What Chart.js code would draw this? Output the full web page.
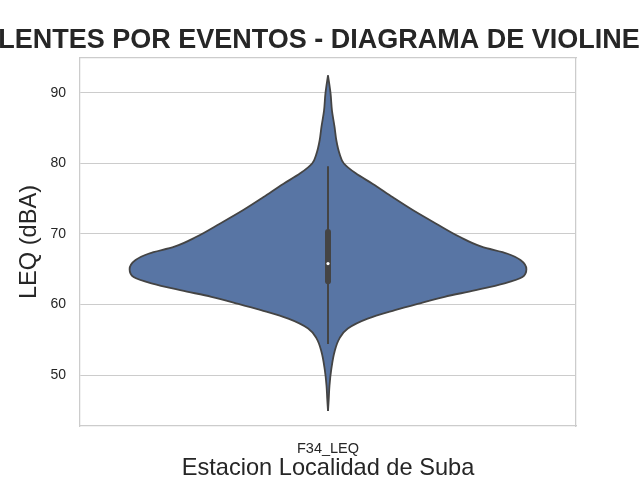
<!DOCTYPE html>
<html>
<head>
<meta charset="utf-8">
<script src="https://cdn.jsdelivr.net/npm/chart.js@4/dist/chart.umd.min.js"></script>
<style>
  html, body { margin: 0; padding: 0; background: #ffffff; }
  #wrap { width: 640px; height: 480px; }
</style>
</head>
<body>
<div id="wrap"><canvas id="c" width="640" height="480"></canvas></div>
<script>
// ---- data ----
const categories = ['F34_LEQ'];
const yTicks = [50, 60, 70, 80, 90];
// violin outline: LEQ level (dBA) and relative density (1 = widest)
const violinLevels  = [44.9, 46.7, 48.5, 50.9, 53.3, 55.2, 56.6, 58.0, 59.2, 60.1, 61.1, 62.0, 63.0, 63.9, 65.0, 66.3, 67.2, 68.2, 69.6, 71.5, 73.4, 75.2, 77.1, 78.6, 80.0, 81.4, 83.3, 85.2, 87.5, 89.9, 92.5];
const violinDensity = [0, 0.004, 0.0075, 0.017, 0.033, 0.058, 0.10, 0.20, 0.337, 0.452, 0.588, 0.739, 0.89, 0.98, 1.0, 0.97, 0.905, 0.774, 0.663, 0.543, 0.427, 0.327, 0.226, 0.14, 0.08, 0.058, 0.042, 0.033, 0.02, 0.013, 0];
// inner box plot
const whiskerLow = 54.4, q1 = 63.3, median = 65.8, q3 = 70.3, whiskerHigh = 79.6;

const halfWidth = 0.4;   // violin width 0.8 on the categorical axis
const catPos = 0;

const leftSide  = violinLevels.map((v, i) => ({ x: catPos - violinDensity[i] * halfWidth, y: v }));
const rightSide = violinLevels.map((v, i) => ({ x: catPos + violinDensity[i] * halfWidth, y: v }));

const FONT = '"Liberation Sans", Arial, Helvetica, sans-serif';
const TEXT = '#262626';
const LINE = '#444444';
const FILL = '#5875a4';
const GRID = '#cccccc';

// let the (wide) title overflow its box instead of being squeezed
const wideTitle = {
  id: 'wideTitle',
  afterLayout(chart) {
    const t = chart.titleBlock;
    if (t) { t.left -= 300; t.right += 300; t.width += 600; }
  }
};

new Chart(document.getElementById('c'), {
  type: 'line',
  plugins: [wideTitle],
  data: {
    datasets: [
      { data: leftSide, order: 2, borderColor: LINE, borderWidth: 1.8, pointRadius: 0, fill: false,
        cubicInterpolationMode: 'monotone', backgroundColor: FILL },
      { data: rightSide, order: 2, borderColor: LINE, borderWidth: 1.8, pointRadius: 0, fill: '-1',
        cubicInterpolationMode: 'monotone', backgroundColor: FILL },
      { data: [{ x: catPos, y: whiskerLow }, { x: catPos, y: whiskerHigh }], order: 1, borderColor: LINE,
        borderWidth: 2, pointRadius: 0, fill: false },
      { data: [{ x: catPos, y: q1 }, { x: catPos, y: q3 }], order: 1, borderColor: LINE,
        borderWidth: 6, pointRadius: 0, fill: false, borderCapStyle: 'round' },
      { data: [{ x: catPos, y: median }], order: 0, showLine: false, pointRadius: 1.6,
        pointBackgroundColor: '#ffffff', pointBorderWidth: 0, fill: false }
    ]
  },
  options: {
    indexAxis: 'y',
    responsive: false,
    devicePixelRatio: 1,
    animation: false,
    events: [],
    layout: { padding: { left: 0, right: 64, top: 0, bottom: 0 } },
    plugins: {
      legend: { display: false },
      tooltip: { enabled: false },
      title: {
        display: true,
        fullSize: false,
        text: 'LENTES POR EVENTOS - DIAGRAMA DE VIOLINES',
        color: TEXT,
        font: { family: FONT, size: 27, weight: 'bold', lineHeight: 1.2 },
        padding: { top: 24.6, bottom: 1.0 }
      }
    },
    scales: {
      x: {
        type: 'linear', position: 'bottom', min: -0.5, max: 0.5,
        afterBuildTicks: (axis) => { axis.ticks = [{ value: catPos }]; },
        afterFit: (axis) => { axis.height = 54; },
        grid: { display: false, drawTicks: false },
        border: { display: true, color: GRID, width: 1.25 },
        ticks: { color: TEXT, font: { family: FONT, size: 14.5 }, padding: 14,
                 callback: (v, i) => categories[i] },
        title: { display: true, text: 'Estacion Localidad de Suba', color: TEXT,
                 font: { family: FONT, size: 23.6, lineHeight: 0.9 }, padding: { top: 0, bottom: 0.4 } }
      },
      y: {
        type: 'linear', position: 'left', min: 42.77, max: 94.96,
        afterBuildTicks: (axis) => { axis.ticks = yTicks.map(v => ({ value: v })); },
        afterFit: (axis) => { axis.width = 80; },
        grid: { color: GRID, lineWidth: 1, drawTicks: false },
        border: { display: true, color: GRID, width: 1.25 },
        ticks: { color: TEXT, font: { family: FONT, size: 14 }, padding: 14 },
        title: { display: true, text: 'LEQ (dBA)', color: TEXT,
                 font: { family: FONT, size: 23.6, lineHeight: 1.2 }, padding: { top: 15.8, bottom: 0 } }
      },
      x2: {
        type: 'linear', position: 'top', min: -0.5, max: 0.5,
        afterFit: (axis) => { axis.height = 0; },
        grid: { display: false, drawTicks: false },
        border: { display: true, color: GRID, width: 1.25 },
        ticks: { display: false }
      },
      y2: {
        type: 'linear', position: 'right', min: 42.77, max: 94.96,
        afterFit: (axis) => { axis.width = 0; },
        grid: { display: false, drawTicks: false },
        border: { display: true, color: GRID, width: 1.25 },
        ticks: { display: false }
      }
    }
  }
});
</script>
</body>
</html>
